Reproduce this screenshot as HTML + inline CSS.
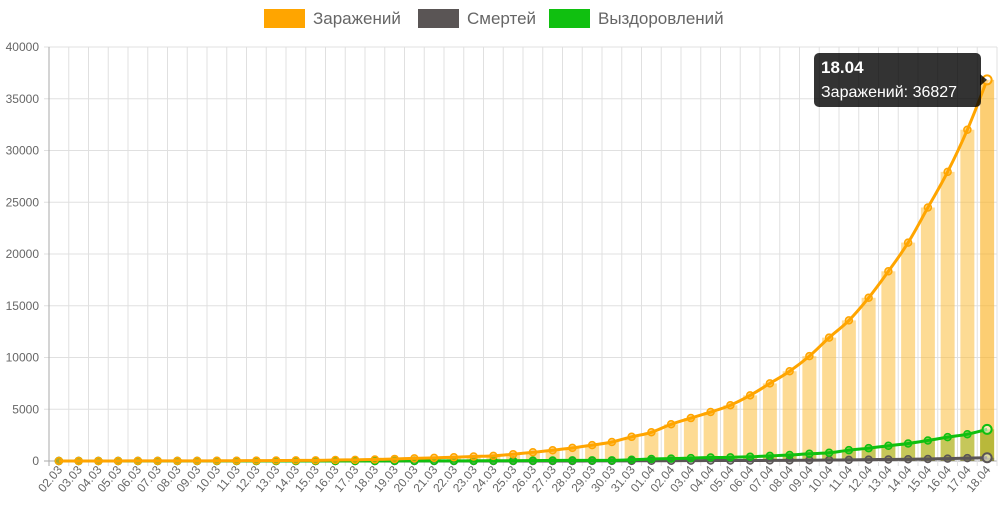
<!DOCTYPE html>
<html><head><meta charset="utf-8"><style>
body{margin:0;background:#fff;width:1000px;height:500px;overflow:hidden;font-family:"Liberation Sans",sans-serif}
</style></head><body>
<svg id="chart" width="1000" height="500" xmlns="http://www.w3.org/2000/svg" font-family="Liberation Sans, sans-serif"></svg>
<script>
const categories=["02.03","03.03","04.03","05.03","06.03","07.03","08.03","09.03","10.03","11.03","12.03","13.03","14.03","15.03","16.03","17.03","18.03","19.03","20.03","21.03","22.03","23.03","24.03","25.03","26.03","27.03","28.03","29.03","30.03","31.03","01.04","02.04","03.04","04.04","05.04","06.04","07.04","08.04","09.04","10.04","11.04","12.04","13.04","14.04","15.04","16.04","17.04","18.04"];
const infected=[3,3,3,4,10,14,17,17,20,28,34,45,59,63,93,114,147,199,253,306,367,438,495,658,840,1036,1264,1534,1836,2337,2777,3548,4149,4731,5389,6343,7497,8672,10131,11917,13584,15770,18328,21102,24490,27938,32008,36827];
const deaths=[0,0,0,0,0,0,0,0,0,0,0,0,0,0,0,0,0,1,1,1,1,1,1,3,3,4,4,8,9,17,24,30,34,43,45,47,58,63,76,94,106,130,148,170,198,232,273,313];
const recovered=[0,0,0,0,0,0,0,0,0,0,3,3,3,5,5,5,5,8,9,12,16,17,22,29,38,49,64,66,66,121,190,235,281,333,355,406,494,580,698,795,1045,1238,1470,1694,1986,2304,2590,3057];
const yTicks=[0,5000,10000,15000,20000,25000,30000,35000,40000];
const NS="http://www.w3.org/2000/svg";
const svg=document.getElementById('chart');
const L=49,R=997,T=47,B=461,YMAX=40000;
const step=(R-L)/categories.length;
const x=i=>L+step*(i+0.5);
const y=v=>B-(v/YMAX)*(B-T);
function mk(tag,attrs,parent){const e=document.createElementNS(NS,tag);for(const k in attrs)e.setAttribute(k,attrs[k]);(parent||svg).appendChild(e);return e;}
// grid
const grid=mk('g',{});


yTicks.forEach(t=>{
 mk('line',{x1:L-5,x2:R,y1:y(t),y2:y(t),stroke:t===0?'#aaa':'#e0e0e0','stroke-width':1},grid);
 const tx=mk('text',{x:L-10,y:y(t)+4,'text-anchor':'end','font-size':12,fill:'#666'});
 tx.textContent=t;
 
 
});
for(let i=0;i<=categories.length;i++){
 mk('line',{x1:L+step*i,x2:L+step*i,y1:T,y2:B+5,stroke:i===0?'#aaa':'#e0e0e0','stroke-width':1},grid);
}
categories.forEach((c,i)=>{
 const tx=mk('text',{transform:`translate(${x(i)+4},${B+9}) rotate(-50)`,'text-anchor':'end','font-size':12,fill:'#666'});
 tx.textContent=c;
 
 
});
// bars
const bw=14;
function bars(data,fill,name,last){
 data.forEach((v,i)=>{
  const r=mk('rect',{x:x(i)-bw/2,y:y(v),width:bw,height:B-y(v),fill:(i===data.length-1&&last)?last:fill});
  
  
 });
}
bars(infected,'rgba(252,190,60,0.55)','bar-infected','rgba(250,180,40,0.65)');
bars(recovered,'rgba(130,175,20,0.45)','bar-recovered','rgba(140,170,20,0.6)');
bars(deaths,'rgba(90,85,85,0.5)','bar-deaths');
// lines
function line(data,color,name){
 let d='';
 const pts=data.map((v,i)=>[x(i),y(v)]);
 d='M'+pts[0][0]+','+pts[0][1];
 for(let i=0;i<pts.length-1;i++){
  const p0=pts[Math.max(i-1,0)],p1=pts[i],p2=pts[i+1],p3=pts[Math.min(i+2,pts.length-1)];
  const t=0.2;
  d+=` C${p1[0]+(p2[0]-p0[0])*t},${p1[1]+(p2[1]-p0[1])*t} ${p2[0]-(p3[0]-p1[0])*t},${p2[1]-(p3[1]-p1[1])*t} ${p2[0]},${p2[1]}`;
 }
 const p=mk('path',{d,fill:'none',stroke:color,'stroke-width':3});
 
 
 pts.forEach((q,i)=>{
  const last=i===pts.length-1;
  const c=mk('circle',{cx:q[0],cy:q[1],r:last?4.5:3.5,fill:last?'rgba(255,255,255,0.5)':color,'fill-opacity':last?1:0.5,stroke:color,'stroke-width':last?2:1.5});
  
  
 });
}
line(deaths,'#5a5555','deaths');
line(recovered,'#10c010','recovered');
line(infected,'#ffa500','infected');
// legend
const legend=[['Заражений','#ffa500',264],['Смертей','#5a5555',418],['Выздоровлений','#10c010',549]];
legend.forEach(([t,c,lx])=>{
 const g=mk('g',{});
 
 
 mk('rect',{x:lx,y:9,width:41,height:19,fill:c},g);
 const tx=mk('text',{x:lx+49,y:24,'font-size':17,fill:'#666'},g);
 tx.textContent=t;
});
// tooltip
const tg=mk('g',{});


mk('rect',{x:814,y:53,width:167,height:54,rx:5,fill:'rgba(0,0,0,0.8)'},tg);
mk('path',{d:`M980,74 L987,${y(infected[infected.length-1])} L980,86 Z`,fill:'rgba(0,0,0,0.8)'},tg);
const t1=mk('text',{x:821,y:73,'font-size':17,'font-weight':'bold',fill:'#fff'},tg);
t1.textContent=categories[categories.length-1];
const t2=mk('text',{x:821,y:97,'font-size':16,fill:'#fff'},tg);
t2.textContent='Заражений: '+infected[infected.length-1];
</script>
</body></html>
